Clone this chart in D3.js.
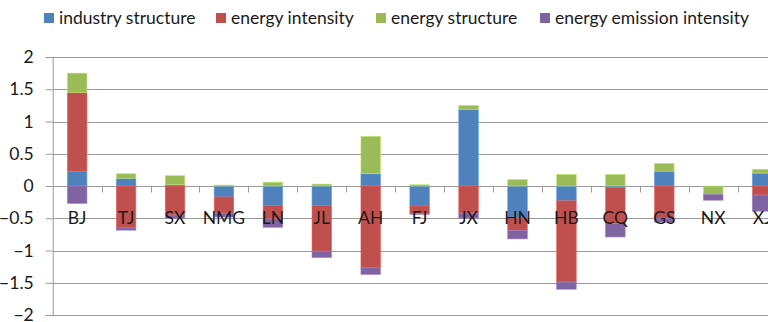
<!DOCTYPE html>
<html>
<head>
<meta charset="utf-8">
<script src="https://cdn.jsdelivr.net/npm/d3@7"></script>
<style>
  body { margin: 0; background: #fff; }
  svg { display: block; }
  text { font-family: Lato, "Open Sans", sans-serif; fill: #1a1a1a; }
</style>
</head>
<body>
<svg id="chart" width="768" height="322"></svg>
<script>
// Decomposition of provincial changes into four effects
const regions = ["BJ", "TJ", "SX", "NMG", "LN", "JL", "AH", "FJ", "JX", "HN", "HB", "CQ", "GS", "NX", "XJ"];
const seriesNames = ["industry structure", "energy intensity", "energy structure", "energy emission intensity"];
const industryStructure = [0.23, 0.12, 0.02, -0.17, -0.30, -0.30, 0.19, -0.31, 1.19, -0.50, -0.23, -0.02, 0.23, 0.00, 0.20];
const energyIntensity   = [1.22, -0.65, -0.45, -0.25, -0.21, -0.71, -1.27, -0.12, -0.42, -0.19, -1.26, -0.56, -0.50, 0.00, -0.14];
const energyStructure   = [0.30, 0.07, 0.14, 0.015, 0.06, 0.03, 0.58, 0.02, 0.06, 0.10, 0.18, 0.18, 0.12, -0.13, 0.06];
const emissionIntensity = [-0.27, -0.035, -0.05, -0.06, -0.13, -0.10, -0.10, -0.01, -0.08, -0.13, -0.11, -0.21, -0.06, -0.09, -0.25];
const yTicks = [2, 1.5, 1, 0.5, 0, -0.5, -1, -1.5, -2];
const colors = ["#4F81BD", "#C0504D", "#9BBB59", "#8064A2"];

const seriesValues = [industryStructure, energyIntensity, energyStructure, emissionIntensity];
const rows = regions.map((r, i) => {
  const row = { region: r };
  seriesNames.forEach((s, k) => { row[s] = seriesValues[k][i]; });
  return row;
});

const svg = d3.select("#chart");
const plotLeft = 52.7, plotRight = 786.6, plotTop = 57, plotBottom = 315;
const fontSize = "17.5px";

const x = d3.scaleBand().domain(regions).range([plotLeft, plotRight])
  .paddingInner(0.6).paddingOuter(0.3);
const y = d3.scaleLinear().domain([-2, 2]).range([plotBottom, plotTop]);

// horizontal gridlines
svg.append("g").selectAll("line").data(yTicks).join("line")
  .attr("x1", plotLeft).attr("x2", 768)
  .attr("y1", d => Math.round(y(d)) + 0.5).attr("y2", d => Math.round(y(d)) + 0.5)
  .attr("stroke", "#9a9a9a").attr("stroke-width", 1);

// stacked bars, positives up from zero and negatives down
const stack = d3.stack().keys(seriesNames).offset(d3.stackOffsetDiverging);
const layers = stack(rows);

svg.append("g").selectAll("g").data(layers).join("g")
  .attr("fill", (d, i) => colors[i])
  .attr("stroke", (d, i) => d3.color(colors[i]).brighter(0.6))
  .attr("stroke-width", 0.6)
  .selectAll("rect").data(d => d).join("rect")
  .attr("x", d => x(d.data.region))
  .attr("width", x.bandwidth())
  .attr("y", d => y(Math.max(d[0], d[1])))
  .attr("height", d => Math.abs(y(d[0]) - y(d[1])));

// y axis
const yAxis = svg.append("g")
  .attr("transform", `translate(${plotLeft},0)`)
  .call(d3.axisLeft(y).tickValues(yTicks).tickSize(7).tickPadding(12).tickFormat(d3.format("")));
yAxis.select(".domain").attr("stroke", "#9a9a9a");
yAxis.selectAll(".tick line").attr("stroke", "#9a9a9a");
yAxis.selectAll(".tick text").style("font-size", fontSize).style("font-family", "Lato, 'Open Sans', sans-serif").attr("fill", "#1a1a1a");

// category boundary ticks along the zero line
const step = x.step();
const y0 = Math.round(y(0)) + 0.5;
svg.append("g").selectAll("line").data(regions).join("line")
  .attr("x1", d => Math.round(x(d) + x.bandwidth() / 2 + step / 2) + 0.5)
  .attr("x2", d => Math.round(x(d) + x.bandwidth() / 2 + step / 2) + 0.5)
  .attr("y1", y0).attr("y2", y0 + 6)
  .attr("stroke", "#9a9a9a");

// category labels
svg.append("g").selectAll("text").data(regions).join("text")
  .attr("x", d => x(d) + x.bandwidth() / 2)
  .attr("y", y(0) + 37.5)
  .attr("text-anchor", "middle")
  .style("font-size", fontSize)
  .text(d => d);

// legend
const legendX = [44, 216, 376, 540];
const legend = svg.append("g").selectAll("g").data(seriesNames).join("g")
  .attr("transform", (d, i) => `translate(${legendX[i]},13)`);
legend.append("rect").attr("width", 10).attr("height", 10).attr("fill", (d, i) => colors[i]);
legend.append("text").attr("x", 15).attr("y", 10.5).style("font-size", fontSize).text(d => d);
</script>
</body>
</html>
